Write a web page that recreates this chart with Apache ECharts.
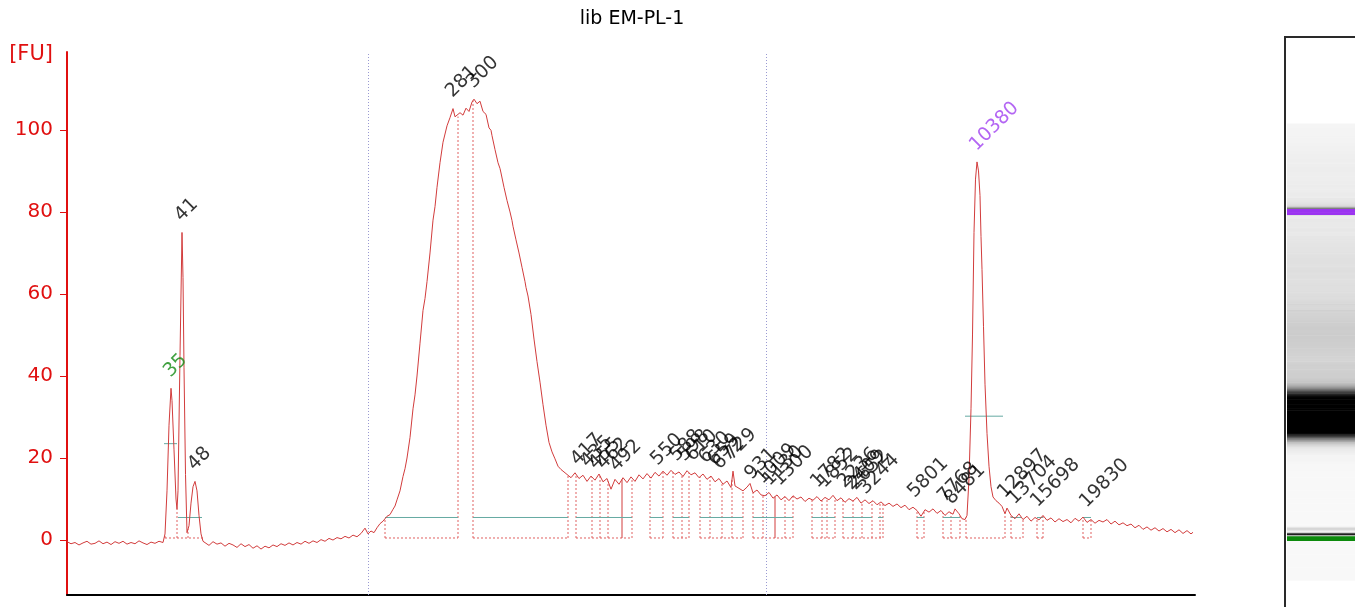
<!DOCTYPE html>
<html><head><meta charset="utf-8">
<script src="https://cdn.jsdelivr.net/npm/echarts@6/dist/echarts.min.js"></script>
<style>html,body{margin:0;padding:0;background:#fff}#c{width:1355px;height:607px}</style>
</head><body><div id="c"></div>
<script>
// ---------------- DATA ----------------
const chartTitle = 'lib EM-PL-1';
const yAxisName = '[FU]';
const yTickValues = [0, 20, 40, 60, 80, 100];
// migration time [s], fluorescence [FU]
const traceData = [
[20.0,-0.4],[20.4,-0.9],[20.8,-0.6],[21.2,-1.2],[21.6,-0.7],[22.0,-0.3],[22.4,-1.0],[22.8,-0.8],[23.2,-0.2],[23.6,-0.9],[24.0,-0.5],[24.4,-1.1],[24.8,-0.4],[25.2,-0.8],[25.6,-0.3],[26.0,-1.0],[26.4,-0.6],[26.8,-0.9],[27.2,-0.2],[27.6,-0.7],[28.0,-1.1],[28.4,-0.5],[28.8,-0.8],[29.2,-0.3],[29.6,-0.6],
[29.8,1.5],[30.0,12],[30.2,28],[30.4,37],[30.5,34],[30.7,22],[30.9,10],[31.0,7.5],[31.1,12],[31.3,45],[31.5,75],[31.6,64],[31.7,42],[31.85,16],[32.0,1.8],[32.2,3.5],[32.4,9],[32.6,13],[32.8,14.3],[33.0,12],[33.2,6],[33.4,1.5],[33.6,-0.3],
[33.8,-0.6],[34.2,-1.3],[34.6,-0.4],[35.0,-1.0],[35.4,-0.7],[35.8,-1.5],[36.2,-0.8],[36.6,-1.2],[37.0,-1.8],[37.4,-0.9],[37.8,-1.6],[38.2,-1.1],[38.6,-2.0],[39.0,-1.4],[39.4,-2.2],[39.8,-1.5],[40.2,-1.9],[40.6,-1.2],[41.0,-1.6],[41.4,-0.9],[41.8,-1.3],[42.2,-0.7],[42.6,-1.2],[43.0,-0.6],[43.4,-1.0],[43.8,-0.3],[44.2,-0.8],[44.6,-0.2],[45.0,-0.6],[45.4,0.1],[45.8,-0.3],[46.2,0.4],[46.6,0.0],[47.0,0.6],[47.4,0.3],[47.8,0.9],[48.2,0.5],[48.6,1.2],[49.0,0.8],[49.4,1.6],[49.8,2.9],[50.1,1.5],[50.4,2.2],[50.7,1.8],
[51.0,3.0],[51.3,4.0],[51.6,4.6],[52.0,5.8],[52.3,6.2],[52.6,7.5],[52.8,8.3],[53.0,9.8],[53.3,12.0],[53.6,15.5],[53.8,17.4],[54.0,20],[54.3,25],[54.6,32],[54.8,35.4],[55.0,40],[55.3,48],[55.6,56],[55.8,58.9],[56.0,63],[56.3,70],[56.6,78],[56.8,81.3],[57.0,86],[57.3,92],[57.6,97],[58.0,101],[58.3,103],[58.6,105.2],[58.8,103.2],[59.0,102.8],[59.3,104.2],[59.6,103.6],[59.9,105.3],[60.2,104.5],[60.5,106.8],[60.7,107.5],[61.0,106.4],[61.3,107.0],[61.6,104.5],[61.9,103.8],[62.2,100.5],[62.4,99.9],[62.5,98.6],[62.8,95.2],[63.1,92.0],[63.3,90.6],[63.4,89.5],[63.7,86.0],[64.0,82.8],[64.3,80.0],[64.5,77.9],[64.6,76.5],[64.9,73.2],[65.2,70.0],[65.5,66.5],[65.8,63.0],[65.9,61.6],[66.1,59.5],[66.4,55.0],[66.7,49.0],[67.0,43.5],[67.3,38.5],[67.6,33.0],[67.9,28.0],[68.2,23.8],[68.5,21.5],[68.8,19.8],[69.1,18.0],[69.4,17.2],[69.7,16.6],
[70.0,16.0],[70.4,15.2],[70.8,16.4],[71.2,15.0],[71.6,15.8],[72.0,14.3],[72.4,15.6],[72.8,14.6],[73.2,16.1],[73.6,14.2],[74.0,15.0],[74.4,12.4],[74.8,14.8],[75.2,13.6],[75.6,15.2],[76.0,14.0],[76.4,15.4],[76.8,14.3],[77.2,15.9],[77.6,14.9],[78.0,16.2],[78.4,15.1],[78.8,16.5],[79.2,15.6],[79.6,16.8],[80.0,15.8],[80.4,17.0],[80.8,16.0],[81.2,16.6],[81.6,15.5],[82.0,16.9],[82.4,15.9],[82.8,16.4],[83.2,15.2],[83.6,16.1],[84.0,14.8],[84.4,15.6],[84.8,14.2],[85.2,15.0],[85.6,13.6],[86.0,14.4],[86.4,12.8],[86.6,16.8],[86.8,13.2],[87.2,12.6],[87.6,12.0],[88.0,12.9],[88.3,13.8],[88.6,11.5],[89.0,12.2],[89.4,11.0],[89.8,10.8],
[90.2,11.6],[90.6,10.2],[91.0,11.0],[91.4,9.8],[91.8,10.6],[92.2,9.6],[92.6,10.8],[93.0,10.0],[93.4,10.5],[93.8,9.4],[94.2,10.2],[94.6,9.7],[95.0,10.6],[95.4,9.5],[95.8,10.4],[96.2,9.8],[96.6,10.9],[97.0,9.6],[97.4,10.3],[97.8,9.2],[98.2,10.1],[98.6,9.5],[99.0,10.4],[99.4,9.0],[99.8,9.8],[100.2,8.9],[100.6,9.6],[101.0,8.6],[101.4,9.3],[101.8,8.4],[102.2,9.0],[102.6,8.2],[103.0,8.8],[103.4,7.9],[103.8,8.5],[104.2,7.4],[104.6,8.0],[105.0,7.2],[105.4,5.8],[105.8,7.4],[106.2,6.8],[106.6,7.6],[107.0,6.5],[107.4,7.2],[107.8,6.0],[108.2,6.9],[108.6,6.3],[108.8,7.6],[109.2,6.4],[109.5,5.2],[109.8,5.0],
[110.0,6.0],[110.2,15],[110.4,32],[110.55,50],[110.7,75],[110.85,88],[111.0,92.2],[111.15,90],[111.3,84],[111.4,74],[111.5,66],[111.65,52],[111.8,38],[112.0,26],[112.2,18],[112.4,13],[112.6,10.5],[112.9,9.6],[113.2,9.0],[113.5,8.2],[113.8,6.4],[114.0,7.8],[114.4,6.0],
[114.8,5.2],[115.2,6.4],[115.6,5.0],[116.0,5.8],[116.4,4.6],[116.8,5.5],[117.2,4.9],[117.6,6.0],[118.0,4.8],[118.4,5.4],[118.8,4.4],[119.2,5.2],[119.6,4.5],[120.0,5.0],[120.4,4.2],[120.8,5.3],[121.2,4.6],[121.6,5.6],[122.0,4.3],[122.4,5.0],[122.8,4.1],[123.2,4.8],[123.6,4.4],[124.0,5.0],[124.4,3.9],[124.8,4.6],[125.2,3.7],[125.6,4.2],[126.0,3.5],[126.4,3.9],[126.8,3.0],[127.2,3.6],[127.6,2.6],[128.0,3.2],[128.4,2.4],[128.8,3.0],[129.2,2.2],[129.6,2.8],[130.0,2.0],[130.4,2.6],[130.8,1.8],[131.2,2.5],[131.6,1.6],[132.0,2.3],[132.4,1.5],[132.6,1.9]
];
// called peaks: size label [bp], migration time, height
const peakLabels = ['35','41','48','281','300','417','435','455','462','492','550','588','598','610','630','659','672','729','931','1009','1130','1300','1782','1852','2236','2409','2652','3244','5801','7768','8481','10380','12897','13704','15698','19830'];
const peakTimes  = [30.4,31.5,32.8,58.6,60.7,71.1,72.1,72.9,73.7,75.0,79.1,81.0,81.8,82.6,83.9,84.8,85.3,86.5,88.5,89.6,90.3,91.3,95.1,95.8,97.8,98.5,98.9,99.9,104.8,107.8,108.5,111.0,113.8,114.8,117.1,122.0];
const peakHeights= [37,75,14.3,105.2,107.5,15.5,15,14.5,14.5,14,15.5,16.5,16.5,16.5,16,15.5,14.5,16.8,12,11,10.5,10.5,10,10,10,9.5,9.5,8.5,7.6,6.5,6,92.2,7.5,6,5.3,5.2];
const lowerMarkerLabel = '35';
const upperMarkerLabel = '10380';
// region-of-interest limits (migration time)
const regionLimits = [50.1, 89.9];
// peak integration boundaries (each group shares one baseline)
const peakBoundaryGroups = [
  [29.8, 31.0, 32.1, 33.6],
  [51.8, 59.1],
  [60.6, 70.1],
  [70.9, 72.5, 73.3, 74.1, 76.5],
  [78.3, 79.6],
  [80.6, 81.5, 82.2],
  [83.3, 84.3, 85.5, 86.5, 87.6],
  [88.6, 89.6, 91.8, 92.6],
  [94.5, 95.5, 96.0, 96.8],
  [97.6, 98.6, 99.5, 100.5, 101.3, 101.6],
  [105.0, 105.7],
  [107.6, 108.4, 109.3],
  [109.9, 113.8],
  [114.4, 115.6],
  [117.0, 117.6],
  [121.6, 122.4]
];
const integrationBaseline = 0.5;
const solidBoundaries = [75.5, 90.8];
// half-height / width markers: [start, end, level]
const widthMarkers = [
  [29.7,31.0,23.5],[31.1,33.5,5.5],[51.8,59.1,5.5],[60.6,70.1,5.5],[70.9,76.5,5.5],[78.3,79.6,5.5],
  [80.6,82.2,5.5],[83.3,87.6,5.5],[88.6,92.6,5.5],[94.5,96.8,5.5],[97.6,100.5,5.5],[101.1,101.6,5.5],
  [105.0,105.7,5.5],[107.6,109.3,5.5],[109.8,113.6,30.2],[114.4,115.4,5.5],[117.0,117.6,5.5],[121.6,122.4,5.5]
];
// gel marker bands (migration time ranges)
const lowerMarkerBand = [29.8, 31.0];
const upperMarkerBand = [110.3, 111.7];

// ---------------- STYLE ----------------
const FONT = 'DejaVu Sans';
const RED = '#e01010';
const TRACE = '#d23c3c';
const BOX = '#e06060';
const TEAL = '#66aaa2';
const GREEN = '#118a11';
const PURPLE = '#a040f0';
const markerColors = {}; markerColors[lowerMarkerLabel] = GREEN; markerColors[upperMarkerLabel] = PURPLE;

function traceAt(t) {
  for (let i = 0; i < traceData.length - 1; i++) {
    const a = traceData[i], b = traceData[i + 1];
    if (t >= a[0] && t <= b[0]) return a[1] + (b[1] - a[1]) * (t - a[0]) / (b[0] - a[0]);
  }
  return traceData[traceData.length - 1][1];
}
function gelGray(v) {
  const f = Math.pow(Math.min(1, Math.max(0, v) / 70), 1.19);
  const g = Math.round(248 - 248 * f);
  return 'rgb(' + g + ',' + g + ',' + g + ')';
}
const gelData = traceData.slice(0, -1).map((p, i) => [p[0], traceData[i + 1][0], (p[1] + traceData[i + 1][1]) / 2]);

const chart = echarts.init(document.getElementById('c'), null, {renderer: 'canvas', width: 1355, height: 607});
const option = {
  animation: false,
  backgroundColor: '#fff',
  title: {
    text: chartTitle, left: 627, top: 5, textAlign: 'center',
    textStyle: {fontFamily: FONT, fontSize: 19, fontWeight: 'normal', color: '#000'}
  },
  grid: [
    {left: 67, right: 160, top: 52, bottom: 12, outerBoundsMode: 'none', containLabel: false},
    {left: 1285, top: 37, width: 100, height: 600, outerBoundsMode: 'none', containLabel: false,
     show: true, borderColor: '#2a2a2a', borderWidth: 2, backgroundColor: 'transparent'}
  ],
  xAxis: [
    {type: 'value', gridIndex: 0, min: 20, max: 132.8,
     axisLine: {onZero: false, lineStyle: {color: '#000', width: 2}},
     axisTick: {show: false}, axisLabel: {show: false}, splitLine: {show: false}},
    {type: 'value', gridIndex: 1, min: 0, max: 1, show: false}
  ],
  yAxis: [
    {type: 'value', gridIndex: 0, min: -13.4, max: 119,
     name: yAxisName, nameLocation: 'end', nameGap: -3,
     nameTextStyle: {fontFamily: FONT, fontSize: 21, color: RED, align: 'right', verticalAlign: 'middle', padding: [0, 14, 0, 0]},
     axisLine: {show: true, onZero: false, lineStyle: {color: RED, width: 2}},
     axisTick: {show: true, length: 7, lineStyle: {color: RED, width: 1}, customValues: yTickValues},
     axisLabel: {fontFamily: FONT, fontSize: 20, color: RED, margin: 14, customValues: yTickValues},
     splitLine: {show: false}},
    {type: 'value', gridIndex: 1, min: 6.0, max: 153.9, show: false}
  ],
  series: [
    { // integration boxes
      type: 'custom', xAxisIndex: 0, yAxisIndex: 0, z: 2, clip: true,
      data: peakBoundaryGroups.map(g => [g[0], integrationBaseline]),
      renderItem: function (params, api) {
        const g = peakBoundaryGroups[params.dataIndex];
        const children = [];
        const b0 = api.coord([g[0], integrationBaseline]);
        const b1 = api.coord([g[g.length - 1], integrationBaseline]);
        const st = {stroke: BOX, lineWidth: 1, lineDash: [2, 2], fill: null};
        children.push({type: 'line', shape: {x1: b0[0], y1: b0[1], x2: b1[0], y2: b1[1]}, style: st});
        g.forEach(t => {
          const p0 = api.coord([t, integrationBaseline]);
          const p1 = api.coord([t, Math.max(integrationBaseline, traceAt(t))]);
          children.push({type: 'line', shape: {x1: p0[0], y1: p0[1], x2: p1[0], y2: p1[1]}, style: st});
        });
        return {type: 'group', children: children};
      }
    },
    { // solid boundaries
      type: 'custom', xAxisIndex: 0, yAxisIndex: 0, z: 2,
      data: solidBoundaries.map(t => [t, integrationBaseline]),
      renderItem: function (params, api) {
        const t = solidBoundaries[params.dataIndex];
        const p0 = api.coord([t, integrationBaseline]);
        const p1 = api.coord([t, traceAt(t)]);
        return {type: 'line', shape: {x1: p0[0], y1: p0[1], x2: p1[0], y2: p1[1]}, style: {stroke: TRACE, lineWidth: 1}};
      }
    },
    { // width markers
      type: 'custom', xAxisIndex: 0, yAxisIndex: 0, z: 3,
      data: widthMarkers,
      renderItem: function (params, api) {
        const m = widthMarkers[params.dataIndex];
        const p0 = api.coord([m[0], m[2]]);
        const p1 = api.coord([m[1], m[2]]);
        return {type: 'line', shape: {x1: p0[0], y1: p0[1], x2: p1[0], y2: p1[1]}, style: {stroke: TEAL, lineWidth: 1}};
      }
    },
    { // trace
      type: 'line', xAxisIndex: 0, yAxisIndex: 0, z: 4,
      data: traceData, showSymbol: false, symbol: 'none', smooth: false,
      lineStyle: {color: TRACE, width: 1},
      markLine: {
        silent: true, symbol: 'none', label: {show: false},
        lineStyle: {color: '#9a9ad2', type: [1, 2], width: 1},
        data: regionLimits.map(t => ({xAxis: t}))
      }
    },
    { // peak labels
      type: 'scatter', xAxisIndex: 0, yAxisIndex: 0, z: 5,
      symbolSize: 2, itemStyle: {color: 'rgba(0,0,0,0)'},
      data: peakLabels.map((l, i) => ({
        name: l, value: [peakTimes[i], peakHeights[i]],
        label: {color: markerColors[l] || '#000'}
      })),
      label: {
        show: true, formatter: '{b}', rotate: 45, position: [-3, -13],
        align: 'left', verticalAlign: 'middle',
        fontFamily: FONT, fontSize: 19, color: '#000'
      }
    },
    { // gel lane
      type: 'custom', xAxisIndex: 1, yAxisIndex: 1, z: 1, clip: true,
      data: gelData,
      renderItem: function (params, api) {
        const d = gelData[params.dataIndex];
        const mid = (d[0] + d[1]) / 2;
        let color = gelGray(d[2]);
        if (mid >= lowerMarkerBand[0] && mid <= lowerMarkerBand[1]) color = '#0c8a0c';
        if (mid >= upperMarkerBand[0] && mid <= upperMarkerBand[1]) color = '#9b35f0';
        const p0 = api.coord([0.02, d[1]]);
        const p1 = api.coord([1, d[0]]);
        return {type: 'rect', shape: {x: p0[0], y: p0[1], width: p1[0] - p0[0], height: p1[1] - p0[1] + 0.6},
                style: {fill: color}};
      }
    }
  ]
};
chart.setOption(option);
</script>
</body></html>
